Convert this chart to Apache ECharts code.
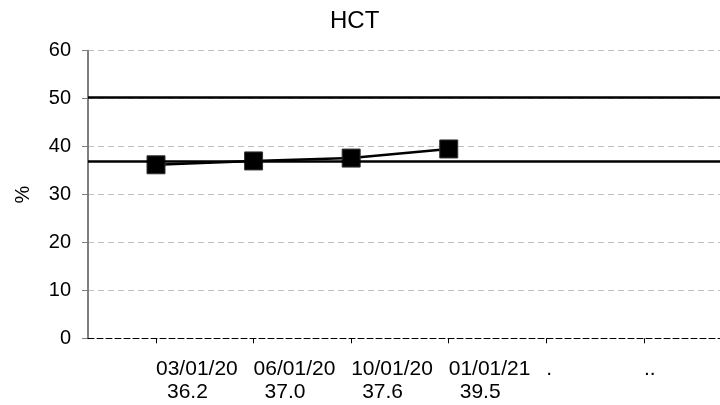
<!DOCTYPE html>
<html>
<head>
<meta charset="utf-8">
<script src="https://cdn.jsdelivr.net/npm/echarts@6/dist/echarts.min.js"></script>
<style>html,body{margin:0;padding:0;background:#fff}#c{width:720px;height:405px}</style>
</head>
<body>
<div id="c"></div>
<script>
const titleText = 'HCT';
const categories = ['03/01/20', '06/01/20', '10/01/20', '01/01/21', '.', '..'];
const valueLabels = ['36.2', '37.0', '37.6', '39.5', '', ''];
const hctValues = [36.2, 37.0, 37.6, 39.5];
const lowerLimit = 37;
const upperLimit = 50.3;

const FONT = 'Liberation Sans, Arial, sans-serif';
const chart = echarts.init(document.getElementById('c'), null, {renderer: 'canvas'});
const catIdx = categories.map((c, i) => i);

chart.setOption({
  animation: false,
  backgroundColor: '#fff',
  title: {
    text: titleText,
    left: 325,
    top: 4,
    textStyle: {fontFamily: FONT, fontSize: 24, fontWeight: 'normal', color: '#000'}
  },
  grid: {left: 88, right: 0, top: 50.7, bottom: 66.7, containLabel: false},
  xAxis: {
    type: 'value',
    min: -0.697,
    max: 5.78,
    splitLine: {show: false},
    axisLine: {show: true, onZero: false, lineStyle: {color: '#000', width: 1, type: [6, 3]}},
    axisTick: {show: true, customValues: catIdx, length: 5, lineStyle: {color: '#000', width: 1}},
    axisLabel: {
      show: true,
      customValues: catIdx,
      align: 'left',
      margin: 19,
      formatter: function (v) {
        const i = Math.round(v);
        const lab = valueLabels[i] ? '\n{v|' + valueLabels[i] + '}' : '';
        return '{d|' + categories[i] + '}' + lab;
      },
      rich: {
        d: {fontFamily: FONT, fontSize: 21, lineHeight: 23, color: '#000'},
        v: {fontFamily: FONT, fontSize: 21, lineHeight: 23, color: '#000', padding: [0, 0, 0, 11]}
      }
    },
    z: 5
  },
  yAxis: {
    type: 'value',
    min: 0,
    max: 60,
    interval: 10,
    name: '%',
    nameLocation: 'middle',
    nameRotate: 90,
    nameGap: 55,
    nameTextStyle: {fontFamily: FONT, fontSize: 20, color: '#000'},
    axisLine: {show: true, onZero: false, lineStyle: {color: '#7f7f7f', width: 2}},
    axisTick: {show: true, length: 6, lineStyle: {color: '#7f7f7f', width: 1}},
    axisLabel: {fontFamily: FONT, fontSize: 20, color: '#000', margin: 17},
    splitLine: {show: true, showMinLine: false, lineStyle: {color: '#c0c0c0', width: 1, type: [6, 4]}}
  },
  series: [{
    type: 'line',
    data: hctValues.map((v, i) => [i, v]),
    symbol: 'rect',
    symbolSize: 18,
    itemStyle: {color: '#000', borderColor: '#333', borderWidth: 1},
    lineStyle: {color: '#000', width: 2.5},
    markLine: {
      silent: true,
      symbol: 'none',
      label: {show: false},
      lineStyle: {color: '#000', width: 2.5, type: 'solid'},
      data: [{yAxis: upperLimit}, {yAxis: lowerLimit}]
    },
    z: 3
  }]
});
</script>
</body>
</html>
